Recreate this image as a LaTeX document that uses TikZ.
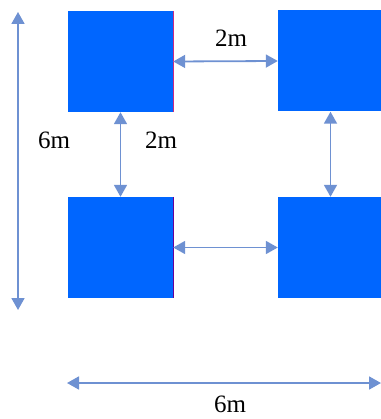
\documentclass[tikz,border=0pt]{standalone}
\usepackage{fontspec}
\setmainfont{Liberation Serif}
\usetikzlibrary{arrows.meta}
\definecolor{sqblue}{RGB}{0,102,255}
\definecolor{dimblue}{RGB}{110,145,210}
\begin{document}
\begin{tikzpicture}[x=1pt,y=-1pt,every node/.style={inner sep=0pt},
      >={Triangle[width=13pt,length=12pt]},
      sq/.style={fill=sqblue,minimum width=105pt,minimum height=101pt},
      dim/.style={<->,dimblue,line width=1.8pt},
      lbl/.style={font=\fontsize{25}{28}\selectfont}]
      \useasboundingbox(0,0)rectangle(380,419);
      \node[sq](tl)at(120.5,61.5){};
      \node[sq](tr)at(330.5,61){};
      \node[sq](bl)at(120.5,247.5){};
      \node[sq](br)at(330.5,247.5){};
      \draw[magenta!60!violet,line width=1pt](tl.north east)--(tl.south east);
      \draw[violet!80!blue,line width=1pt](bl.north east)--(bl.south east);
      \draw[dim](tl.east)--(tr.west);
      \draw[dim](bl.east)--(br.west);
      \draw[dim](tl.south)--(bl.north);
      \draw[dim](tr.south)--(br.north);
      \coordinate(htop)at(18,12);
      \coordinate(hbot)at(18,310);
      \coordinate(wl)at(67,383);
      \coordinate(wr)at(381,383);
      \draw[dim](htop)--(hbot);
      \draw[dim](wl)--(wr);
      \node[lbl](gaptop)at(231,38){2m};
      \node[lbl](gapleft)at(161,140){2m};
      \node[lbl](height)at(54,140){6m};
      \node[lbl](width)at(230,404){6m};
    \end{tikzpicture}
\end{document}
